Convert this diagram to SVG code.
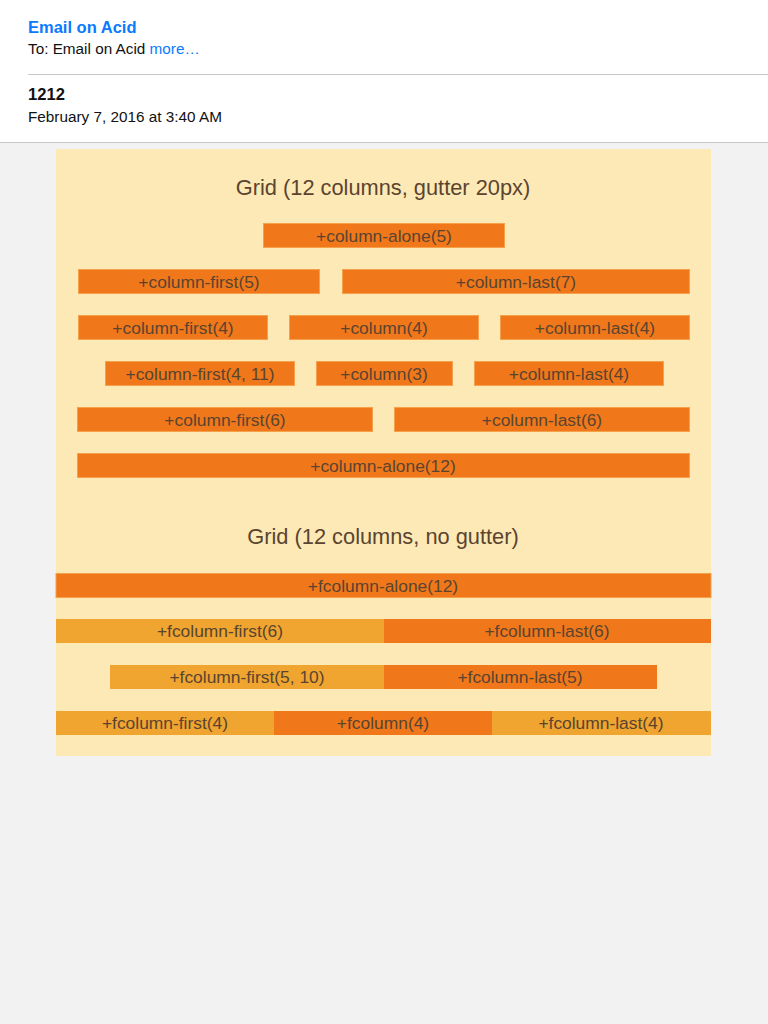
<svg xmlns="http://www.w3.org/2000/svg" width="768" height="1024" viewBox="0 0 768 1024">
<style>
text{font-family:"Liberation Sans",Arial,sans-serif}
.d{fill:#f0781b;stroke:#f5a04a;stroke-width:1}
.l{fill:#efa52f}
.t{font-size:17.4px;fill:#5a4430;text-anchor:middle}
.h{font-size:21.8px;fill:#5a4430;text-anchor:middle}
</style>
<rect x="0" y="0" width="768" height="1024" fill="#f2f2f2"/>
<rect x="0" y="0" width="768" height="142" fill="#ffffff"/>
<g id="header">
<text x="28" y="33" font-size="16.5" font-weight="bold" fill="#0a7aff">Email on Acid</text>
<text x="28" y="54" font-size="15.3" fill="#111">To: Email on Acid <tspan fill="#0a7aff">more…</tspan></text>
<line x1="28" y1="74.5" x2="768" y2="74.5" stroke="#c8c8c8" stroke-width="1"/>
<text x="28" y="100" font-size="16.6" font-weight="bold" fill="#111">1212</text>
<text x="28" y="122" font-size="15.3" fill="#111">February 7, 2016 at 3:40 AM</text>
<line x1="0" y1="142.5" x2="768" y2="142.5" stroke="#c8c8c8" stroke-width="1"/>
</g>
<rect id="panel" x="56" y="149" width="655" height="607" fill="#fde9b5"/>
<g id="grid1">
<text class="h" x="383" y="195">Grid (12 columns, gutter 20px)</text>
<g id="r1"><rect class="d" x="263.5" y="223.5" width="241" height="24"/><text class="t" x="384" y="242">+column-alone(5)</text></g>
<g id="r2a"><rect class="d" x="78.5" y="269.5" width="241" height="24"/><text class="t" x="199" y="288">+column-first(5)</text></g>
<g id="r2b"><rect class="d" x="342.5" y="269.5" width="347" height="24"/><text class="t" x="516" y="288">+column-last(7)</text></g>
<g id="r3a"><rect class="d" x="78.5" y="315.5" width="189" height="24"/><text class="t" x="173" y="334">+column-first(4)</text></g>
<g id="r3b"><rect class="d" x="289.5" y="315.5" width="189" height="24"/><text class="t" x="384" y="334">+column(4)</text></g>
<g id="r3c"><rect class="d" x="500.5" y="315.5" width="189" height="24"/><text class="t" x="595" y="334">+column-last(4)</text></g>
<g id="r4a"><rect class="d" x="105.5" y="361.5" width="189" height="24"/><text class="t" x="200" y="380">+column-first(4, 11)</text></g>
<g id="r4b"><rect class="d" x="316.5" y="361.5" width="136" height="24"/><text class="t" x="384" y="380">+column(3)</text></g>
<g id="r4c"><rect class="d" x="474.5" y="361.5" width="189" height="24"/><text class="t" x="569" y="380">+column-last(4)</text></g>
<g id="r5a"><rect class="d" x="77.5" y="407.5" width="295" height="24"/><text class="t" x="225" y="426">+column-first(6)</text></g>
<g id="r5b"><rect class="d" x="394.5" y="407.5" width="295" height="24"/><text class="t" x="542" y="426">+column-last(6)</text></g>
<g id="r6"><rect class="d" x="77.5" y="453.5" width="612" height="24"/><text class="t" x="383" y="472">+column-alone(12)</text></g>
</g>
<g id="grid2">
<text class="h" x="383" y="544">Grid (12 columns, no gutter)</text>
<g id="f1"><rect class="d" x="56" y="573.5" width="655" height="24"/><text class="t" x="383" y="592">+fcolumn-alone(12)</text></g>
<g id="f2a"><rect class="l" x="56" y="619" width="328" height="24"/><text class="t" x="220" y="637">+fcolumn-first(6)</text></g>
<g id="f2b"><rect fill="#f0781b" x="384" y="619" width="327" height="24"/><text class="t" x="547" y="637">+fcolumn-last(6)</text></g>
<g id="f3a"><rect class="l" x="110" y="665" width="274" height="24"/><text class="t" x="247" y="683">+fcolumn-first(5, 10)</text></g>
<g id="f3b"><rect fill="#f0781b" x="384" y="665" width="273" height="24"/><text class="t" x="520" y="683">+fcolumn-last(5)</text></g>
<g id="f4a"><rect class="l" x="56" y="711" width="218" height="24"/><text class="t" x="165" y="729">+fcolumn-first(4)</text></g>
<g id="f4b"><rect fill="#f0781b" x="274" y="711" width="218" height="24"/><text class="t" x="383" y="729">+fcolumn(4)</text></g>
<g id="f4c"><rect class="l" x="492" y="711" width="219" height="24"/><text class="t" x="601" y="729">+fcolumn-last(4)</text></g>
</g>
</svg>
